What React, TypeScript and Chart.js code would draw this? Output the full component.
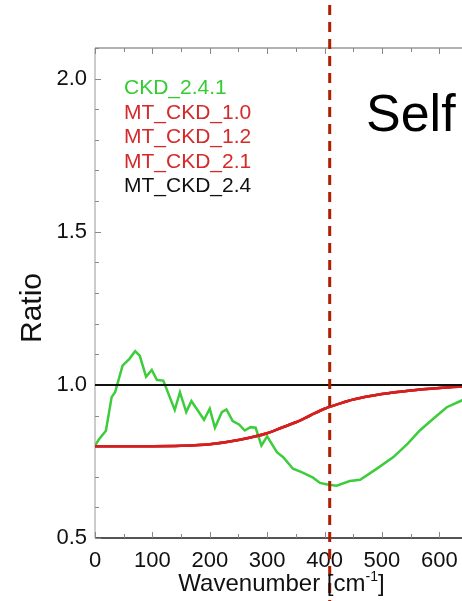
import React, { useEffect, useRef } from "react";
import { Chart, registerables } from "chart.js";

Chart.register(...registerables);

// ---- data ----
const greenWave = [0, 6, 19, 29, 35, 48, 60, 70, 78, 89, 99, 108, 119, 139, 148, 159, 168, 190, 200, 209, 221, 229, 240, 251, 261, 271, 280, 290, 300, 317, 328, 345, 360, 380, 392, 405, 421, 444, 462, 490, 520, 545, 566, 590, 613, 639, 650];
const greenRatio = [0.8, 0.82, 0.85, 0.96, 0.976, 1.063, 1.085, 1.11, 1.095, 1.027, 1.049, 1.016, 1.014, 0.918, 0.976, 0.911, 0.947, 0.886, 0.922, 0.86, 0.911, 0.92, 0.882, 0.871, 0.851, 0.862, 0.86, 0.802, 0.832, 0.78, 0.764, 0.726, 0.715, 0.697, 0.68, 0.675, 0.671, 0.686, 0.69, 0.725, 0.764, 0.808, 0.851, 0.89, 0.927, 0.949, 0.958];

const redWave = [0, 50, 100, 150, 200, 250, 300, 325, 350, 375, 400, 425, 450, 500, 550, 600, 650];
const redRatio = [0.8, 0.8, 0.8, 0.801, 0.806, 0.82, 0.842, 0.86, 0.878, 0.9, 0.922, 0.938, 0.952, 0.97, 0.982, 0.99, 0.996];

const blackWave = [0, 650];
const blackRatio = [1.0, 1.0];

const legendNames = ["CKD_2.4.1", "MT_CKD_1.0", "MT_CKD_1.2", "MT_CKD_2.1", "MT_CKD_2.4"];
const legendColors = ["#33cc33", "#d42a2a", "#d42a2a", "#d42a2a", "#111111"];

const xTickValues = [0, 100, 200, 300, 400, 500, 600];
const yTickValues = [0.5, 1.0, 1.5, 2.0];
const xMin = 0;
const xMax = 650;
const yMin = 0.5;
const yMax = 2.1;
const markerWave = 409;

const FONT = "'Liberation Sans', Arial, Helvetica, sans-serif";

function pts(xs: number[], ys: number[]) {
  return xs.map((x, i) => ({ x, y: ys[i] }));
}

const decorPlugin = {
  id: "decor",
  beforeDatasetsDraw(chart: any) {
    const { ctx, chartArea: a, scales } = chart;
    const xs = scales.x;
    const ys = scales.y;
    ctx.save();
    // frame
    ctx.lineWidth = 1.5;
    ctx.strokeStyle = "#999999";
    ctx.beginPath();
    ctx.moveTo(a.left, a.top);
    ctx.lineTo(a.right, a.top);
    ctx.stroke();
    ctx.strokeStyle = "#bbbbbb";
    ctx.beginPath();
    ctx.moveTo(a.left, a.top);
    ctx.lineTo(a.left, a.bottom);
    ctx.stroke();
    ctx.strokeStyle = "#999999";
    ctx.beginPath();
    ctx.moveTo(a.right, a.top);
    ctx.lineTo(a.right, a.bottom);
    ctx.stroke();
    ctx.strokeStyle = "#555555";
    ctx.lineWidth = 2;
    ctx.beginPath();
    ctx.moveTo(a.left, a.bottom);
    ctx.lineTo(a.right, a.bottom);
    ctx.stroke();
    // x ticks
    ctx.lineWidth = 1;
    for (let v = xMin; v <= xMax; v += 50) {
      const px = Math.round(xs.getPixelForValue(v)) + 0.5;
      const len = v % 100 === 0 ? 6 : 4;
      ctx.strokeStyle = "#888888";
      ctx.beginPath();
      ctx.moveTo(px, a.bottom);
      ctx.lineTo(px, a.bottom - len);
      ctx.moveTo(px, a.top);
      ctx.lineTo(px, a.top + len);
      ctx.stroke();
    }
    // y ticks
    for (let i = 0; i <= 16; i++) {
      const v = yMin + i * 0.1;
      const py = Math.round(ys.getPixelForValue(v)) + 0.5;
      const major = i % 5 === 0;
      const len = major ? 6 : 4;
      ctx.strokeStyle = "#888888";
      ctx.beginPath();
      ctx.moveTo(a.left, py);
      ctx.lineTo(a.left + len, py);
      ctx.moveTo(a.right, py);
      ctx.lineTo(a.right - len, py);
      ctx.stroke();
    }
    ctx.restore();
  },
  afterDatasetsDraw(chart: any) {
    const { ctx, chartArea: a, scales } = chart;
    const xs = scales.x;
    ctx.save();
    // dashed marker line spanning whole canvas
    const mx = xs.getPixelForValue(markerWave);
    ctx.strokeStyle = "#b01e00";
    ctx.lineWidth = 3;
    ctx.setLineDash([10, 7]);
    ctx.beginPath();
    ctx.moveTo(mx, 5);
    ctx.lineTo(mx, chart.height);
    ctx.stroke();
    ctx.setLineDash([]);

    // legend text
    ctx.font = `21px ${FONT}`;
    ctx.textAlign = "left";
    ctx.textBaseline = "alphabetic";
    legendNames.forEach((n, i) => {
      ctx.fillStyle = legendColors[i];
      ctx.fillText(n, 124, 94 + i * 24.6);
    });

    // "Self"
    ctx.font = `52px ${FONT}`;
    ctx.fillStyle = "#000000";
    ctx.fillText("Self", 366, 131);

    // y title
    ctx.save();
    ctx.translate(41, 308);
    ctx.rotate(-Math.PI / 2);
    ctx.font = `30px ${FONT}`;
    ctx.textAlign = "center";
    ctx.fillStyle = "#111111";
    ctx.fillText("Ratio", 0, 0);
    ctx.restore();

    // x title with superscript
    const main = "Wavenumber [cm";
    const sup = "-1";
    const end = "]";
    ctx.fillStyle = "#111111";
    ctx.font = `24px ${FONT}`;
    const w1 = ctx.measureText(main).width;
    const w3 = ctx.measureText(end).width;
    ctx.font = `14px ${FONT}`;
    const w2 = ctx.measureText(sup).width;
    const total = w1 + w2 + w3;
    const cx = (a.left + a.right) / 2;
    const x0 = cx - total / 2;
    const base = 591;
    ctx.textAlign = "left";
    ctx.font = `24px ${FONT}`;
    ctx.fillText(main, x0, base);
    ctx.font = `14px ${FONT}`;
    ctx.fillText(sup, x0 + w1, base - 10);
    ctx.font = `24px ${FONT}`;
    ctx.fillText(end, x0 + w1 + w2, base);
    ctx.restore();
  },
};

export default function App() {
  const ref = useRef<HTMLCanvasElement | null>(null);
  useEffect(() => {
    document.body.style.margin = "0";
    const canvas = ref.current;
    if (!canvas) return;
    const redStyle = {
      borderColor: "#d42020",
      borderWidth: 2.5,
      pointRadius: 0,
      cubicInterpolationMode: "monotone",
    };
    const chart = new Chart(canvas, {
      type: "line",
      data: {
        datasets: [
          {
            label: "MT_CKD_2.4",
            data: pts(blackWave, blackRatio),
            borderColor: "#111111",
            borderWidth: 2,
            pointRadius: 0,
            tension: 0,
          },
          { label: "MT_CKD_1.0", data: pts(redWave, redRatio), ...redStyle },
          { label: "MT_CKD_1.2", data: pts(redWave, redRatio), ...redStyle },
          { label: "MT_CKD_2.1", data: pts(redWave, redRatio), ...redStyle },
          {
            label: "CKD_2.4.1",
            data: pts(greenWave, greenRatio),
            borderColor: "#3ccc3c",
            borderWidth: 2.5,
            pointRadius: 0,
            tension: 0,
          },
        ],
      },
      options: {
        animation: false,
        responsive: false,
        devicePixelRatio: 1,
        layout: { padding: { top: 48, right: 4, left: 0, bottom: 0 } },
        plugins: {
          legend: { display: false },
          tooltip: { enabled: false },
        },
        scales: {
          x: {
            type: "linear",
            min: xMin,
            max: xMax,
            grid: { display: false, drawTicks: false },
            border: { display: false },
            afterBuildTicks: (s: any) => {
              s.ticks = xTickValues.map((v) => ({ value: v }));
            },
            afterFit: (s: any) => {
              s.height = 63;
            },
            ticks: {
              padding: 10,
              color: "#111111",
              font: { family: FONT, size: 22 },
              maxRotation: 0,
              autoSkip: false,
              callback: (v: any) => String(v),
            },
          },
          y: {
            type: "linear",
            min: yMin,
            max: yMax,
            grid: { display: false, drawTicks: false },
            border: { display: false },
            afterBuildTicks: (s: any) => {
              s.ticks = yTickValues.map((v) => ({ value: v }));
            },
            afterFit: (s: any) => {
              s.width = 95;
            },
            ticks: {
              padding: 8,
              color: "#111111",
              font: { family: FONT, size: 22 },
              autoSkip: false,
              callback: (v: any) => Number(v).toFixed(1),
            },
          },
        },
      },
      plugins: [decorPlugin],
    } as any);
    return () => chart.destroy();
  }, []);
  return (
    <div style={{ width: 462, height: 601, overflow: "hidden", position: "relative", background: "#ffffff" }}>
      <canvas ref={ref} width={472} height={601} style={{ display: "block" }} />
    </div>
  );
}
